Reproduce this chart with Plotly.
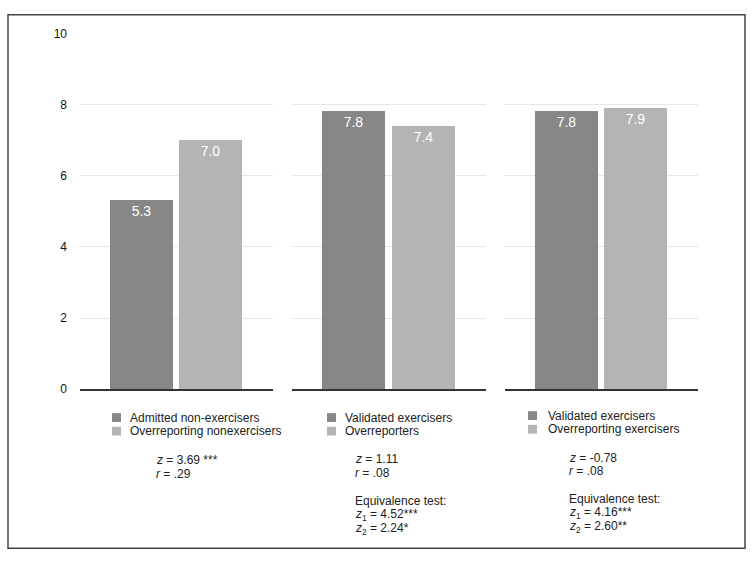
import plotly.graph_objects as go

# ---- data ----
panel1_labels = ["Admitted non-exercisers", "Overreporting nonexercisers"]
panel1_values = [5.3, 7.0]
panel2_labels = ["Validated exercisers", "Overreporters"]
panel2_values = [7.8, 7.4]
panel3_labels = ["Validated exercisers", "Overreporting exercisers"]
panel3_values = [7.8, 7.9]

panel1_stats = ["<i>z</i> = 3.69 ***", "<i>r</i> = .29"]
panel2_stats = ["<i>z</i> = 1.11", "<i>r</i> = .08", "",
                "Equivalence test:", "<i>z</i><sub>1</sub> = 4.52***", "<i>z</i><sub>2</sub> = 2.24*"]
panel3_stats = ["<i>z</i> = -0.78", "<i>r</i> = .08", "",
                "Equivalence test:", "<i>z</i><sub>1</sub> = 4.16***", "<i>z</i><sub>2</sub> = 2.60**"]

y_ticks = [0, 2, 4, 6, 8, 10]
bar_colors = ["#878787", "#b4b4b4"]

W, H = 754, 564
def X(px):
    return px / W
def Y(py):
    return 1 - py / H

FONT = "Liberation Sans, Arial, sans-serif"

panels = [
    dict(labels=panel1_labels, values=panel1_values, stats=panel1_stats,
         dom=(80, 273), sq_x=112, txt_x=128, leg_y=(421, 435), st_x=154, st_y0=465),
    dict(labels=panel2_labels, values=panel2_values, stats=panel2_stats,
         dom=(292, 486), sq_x=327, txt_x=343, leg_y=(421, 435), st_x=353, st_y0=464),
    dict(labels=panel3_labels, values=panel3_values, stats=panel3_stats,
         dom=(505, 698), sq_x=528, txt_x=546, leg_y=(419, 433), st_x=567, st_y0=462),
]

fig = go.Figure()
shapes = []
annotations = []

y_top_px, y_bot_px = 27, 392

for i, p in enumerate(panels):
    n = i + 1
    xa = "x" if n == 1 else f"x{n}"
    ya = "y" if n == 1 else f"y{n}"
    fig.add_trace(go.Bar(
        x=[0, 1], y=p["values"], width=0.913,
        marker=dict(color=bar_colors, line=dict(width=0)),
        text=p["values"], texttemplate="%{y:.1f}",
        textposition="inside", insidetextanchor="end",
        textfont=dict(color="white", size=14, family=FONT),
        xaxis=xa, yaxis=ya, showlegend=False, hoverinfo="skip",
    ))
    xkey = "xaxis" if n == 1 else f"xaxis{n}"
    ykey = "yaxis" if n == 1 else f"yaxis{n}"
    fig.update_layout(**{
        xkey: dict(domain=[X(p["dom"][0]), X(p["dom"][1])], anchor=ya,
                   range=[-0.891, 1.906], showticklabels=False, showgrid=False,
                   zeroline=False, showline=True, linecolor="#333333", linewidth=1.5,
                   ticks="", fixedrange=True),
        ykey: dict(domain=[Y(y_bot_px), Y(y_top_px)], anchor=xa, range=[0, 10],
                   tickvals=y_ticks, showticklabels=(n == 1), showgrid=True,
                   gridcolor="#e6e6e6", gridwidth=1, zeroline=False, showline=False,
                   ticks="", ticklabelstandoff=12,
                   tickfont=dict(size=12, color="#111111", family=FONT)),
    })
    # legend squares and labels
    for j, lab in enumerate(p["labels"]):
        cy = p["leg_y"][j]
        shapes.append(dict(type="rect", xref="paper", yref="paper",
                           x0=X(p["sq_x"]), x1=X(p["sq_x"] + 9),
                           y0=Y(cy + 4.5), y1=Y(cy - 4.5),
                           fillcolor=bar_colors[j], line=dict(width=0)))
        annotations.append(dict(xref="paper", yref="paper", x=X(p["txt_x"]), y=Y(cy),
                                xanchor="left", yanchor="middle", text=lab, showarrow=False,
                                font=dict(size=12, color="#222222", family=FONT)))
    # stats
    for k, line in enumerate(p["stats"]):
        if not line:
            continue
        yy = p["st_y0"] + 14 * k + (1 if k >= 3 else 0)
        annotations.append(dict(xref="paper", yref="paper", x=X(p["st_x"]), y=Y(yy),
                                xanchor="left", yanchor="middle", text=line, showarrow=False,
                                font=dict(size=12, color="#222222", family=FONT)))

# outer frame
shapes.append(dict(type="rect", xref="paper", yref="paper",
                   x0=X(8), x1=X(745), y0=Y(555), y1=Y(8),
                   line=dict(color="#444444", width=1.5), fillcolor="rgba(0,0,0,0)"))

fig.update_layout(
    width=W, height=H, autosize=False,
    margin=dict(l=0, r=0, t=0, b=0),
    paper_bgcolor="white", plot_bgcolor="white",
    shapes=shapes, annotations=annotations,
    bargap=0, font=dict(family=FONT),
)

post_js = (
    "var s=document.createElement('style');"
    "s.textContent='html,body{margin:0!important;padding:0!important;overflow:hidden!important;}';"
    "document.head.appendChild(s);"
)

fig.write_html("out.html", config={"displayModeBar": False}, post_script=post_js)
